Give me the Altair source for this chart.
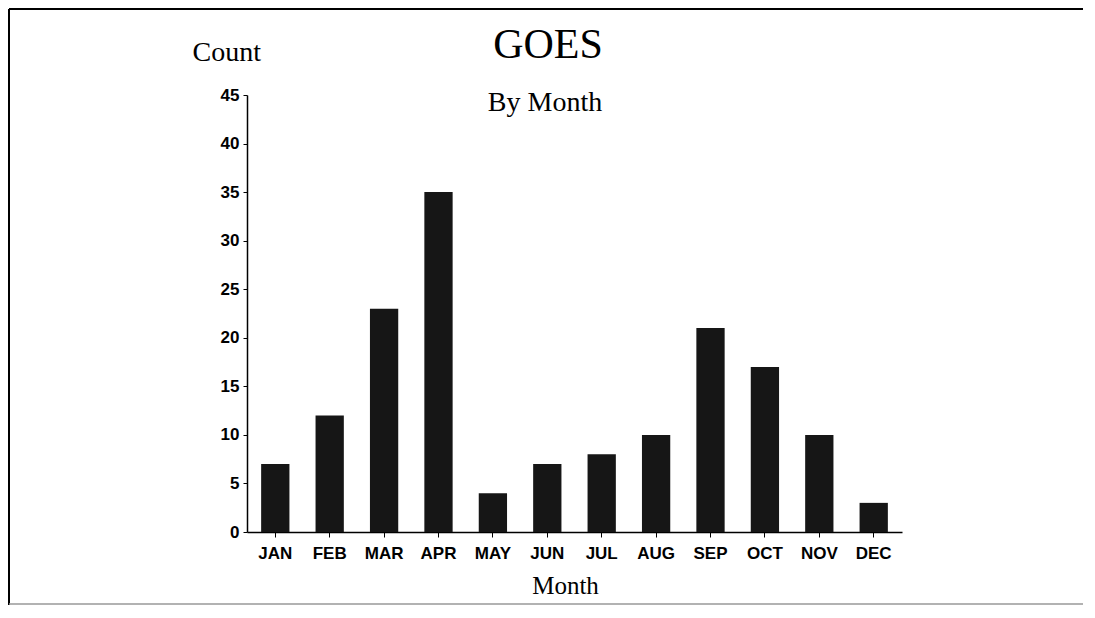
import altair as alt
import pandas as pd

months = ["JAN", "FEB", "MAR", "APR", "MAY", "JUN", "JUL", "AUG", "SEP", "OCT", "NOV", "DEC"]
counts = [7, 12, 23, 35, 4, 7, 8, 10, 21, 17, 10, 3]
title_text = "GOES"
subtitle_text = "By Month"
y_title = "Count"
x_title = "Month"
y_ticks = [0, 5, 10, 15, 20, 25, 30, 35, 40, 45]

df = pd.DataFrame({"Month": months, "Count": counts})

W, H = 655, 437
PAD = {"left": 239, "top": 87, "right": 181, "bottom": 74}

bars = alt.Chart(df).mark_bar(color="#161616").encode(
    x=alt.X(
        "Month:N",
        sort=months,
        scale=alt.Scale(paddingInner=0.48, paddingOuter=0.26),
        axis=alt.Axis(
            title=x_title,
            titleFont="Liberation Serif",
            titleFontSize=25,
            titleFontWeight="normal",
            titleColor="black",
            titleX=318,
            titleY=61,
            titleBaseline="alphabetic",
            titleAnchor="start",
            titleAlign="center",
            labelFont="Liberation Sans",
            labelFontWeight="bold",
            labelFontSize=17,
            labelColor="black",
            labelAngle=0,
            labelPadding=8,
            tickSize=5,
            tickColor="black",
            domainColor="black",
            domainWidth=1.5,
            grid=False,
        ),
    ),
    y=alt.Y(
        "Count:Q",
        scale=alt.Scale(domain=[0, 45], nice=False),
        axis=alt.Axis(
            values=y_ticks,
            title=y_title,
            titleFont="Liberation Serif",
            titleFontSize=28,
            titleFontWeight="normal",
            titleColor="black",
            titleAngle=0,
            titleX=-55,
            titleY=-35,
            titleAlign="left",
            titleBaseline="alphabetic",
            labelFont="Liberation Sans",
            labelFontWeight="bold",
            labelFontSize=17,
            labelColor="black",
            labelPadding=4,
            tickSize=4,
            tickColor="black",
            domainColor="black",
            domainWidth=1.5,
            grid=False,
        ),
    ),
)

title_df = pd.DataFrame({"t": [title_text]})
sub_df = pd.DataFrame({"t": [subtitle_text]})

title_mark = alt.Chart(title_df).mark_text(
    font="Liberation Serif", fontSize=42, color="black", baseline="alphabetic", align="center"
).encode(text="t:N", x=alt.value(301), y=alt.value(-37))

sub_mark = alt.Chart(sub_df).mark_text(
    font="Liberation Serif", fontSize=28, color="black", baseline="alphabetic", align="center"
).encode(text="t:N", x=alt.value(298), y=alt.value(16))

frame_left = alt.Chart(title_df).mark_rule(color="black", strokeWidth=2).encode(
    x=alt.value(-238), y=alt.value(-86), y2=alt.value(H + 73)
)
frame_top = alt.Chart(title_df).mark_rule(color="black", strokeWidth=2).encode(
    x=alt.value(-238), x2=alt.value(W + 200), y=alt.value(-86)
)
frame_bottom = alt.Chart(title_df).mark_rule(color="#999999", strokeWidth=1.5).encode(
    x=alt.value(-238), x2=alt.value(W + 200), y=alt.value(H + 72)
)

chart = alt.layer(bars, title_mark, sub_mark, frame_left, frame_top, frame_bottom).properties(
    width=W,
    height=H,
    autosize=alt.AutoSizeParams(type="none"),
    padding=PAD,
).configure(background="white", view=alt.ViewConfig(stroke=None))

chart.save("out.html", embed_options={"renderer": "svg", "actions": False})
